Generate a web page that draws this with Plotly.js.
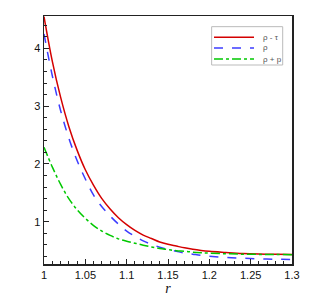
<!DOCTYPE html>
<html>
<head>
<meta charset="utf-8">
<script src="https://cdn.plot.ly/plotly-3.0.1.min.js"></script>
<style>html,body{margin:0;padding:0;background:#fff;}#chart{width:332px;height:296px;}</style>
</head>
<body>
<div id="chart"></div>
<script>
var r = [1.00,1.01,1.02,1.03,1.04,1.05,1.06,1.07,1.08,1.09,1.10,1.11,1.12,1.13,1.14,1.15,1.16,1.17,1.18,1.19,1.20,1.22,1.24,1.26,1.28,1.30];
var rhoMinusTau = [4.55,3.78,3.16,2.65,2.24,1.90,1.63,1.40,1.22,1.07,0.95,0.85,0.77,0.71,0.65,0.61,0.58,0.55,0.525,0.505,0.49,0.47,0.452,0.442,0.437,0.435];
var rho = [4.25,3.53,2.93,2.45,2.06,1.74,1.46,1.26,1.10,0.96,0.84,0.75,0.67,0.61,0.56,0.52,0.49,0.46,0.44,0.42,0.405,0.383,0.37,0.36,0.352,0.348];
var rhoPlusP = [2.29,1.95,1.65,1.40,1.21,1.06,0.935,0.84,0.765,0.705,0.665,0.63,0.595,0.565,0.54,0.52,0.50,0.49,0.475,0.465,0.457,0.448,0.44,0.436,0.434,0.432];
var names = ["ρ - τ", "ρ", "ρ + p"];
var colors = ["#d40000", "#3c3cff", "#00c800"];
var dashes = ["solid", "dash", "dashdot"];
var series = [rhoMinusTau, rho, rhoPlusP];

var traces = series.map(function (s, i) {
  return {x: r, y: s, name: names[i], mode: "lines", showlegend: false,
          line: {color: colors[i], width: 1.5, dash: dashes[i], shape: "spline"}};
});

// legend box (drawn with shapes + annotations to match compact spacing)
var legBox = {x0: 0.676, x1: 0.9625, y0: 0.8024, y1: 0.957};
var legRowY = [0.9141, 0.8710, 0.8266];
var shapes = [{type: "rect", xref: "paper", yref: "paper", x0: legBox.x0, x1: legBox.x1, y0: legBox.y0, y1: legBox.y1,
               line: {color: "#bbb", width: 1}, fillcolor: "#fff", layer: "above"}];
var annotations = [];
names.forEach(function (n, i) {
  shapes.push({type: "line", xref: "paper", yref: "paper", x0: 0.6855, x1: 0.8468, y0: legRowY[i], y1: legRowY[i],
               line: {color: colors[i], width: 1.5, dash: dashes[i]}, layer: "above"});
  annotations.push({xref: "paper", yref: "paper", x: 0.875, y: legRowY[i], xanchor: "left", yanchor: "middle",
                    text: n, showarrow: false, font: {family: "Liberation Sans, Arial, sans-serif", size: 8, color: "#555"}});
});

var axisCommon = {
  showgrid: false, zeroline: false, showline: true, mirror: true,
  linecolor: "#222", linewidth: 1.5, ticks: "inside", ticklen: 5, tickcolor: "#222",
  tickfont: {family: "Liberation Sans, Arial, sans-serif", size: 11, color: "#111"}
};

var layout = {
  width: 332, height: 296,
  margin: {l: 44, r: 40, t: 16, b: 32},
  paper_bgcolor: "#fff", plot_bgcolor: "#fff",
  showlegend: false,
  shapes: shapes,
  annotations: annotations,
  xaxis: Object.assign({}, axisCommon, {
    range: [1, 1.3], dtick: 0.05, tick0: 1,
    minor: {dtick: 0.01, ticks: "inside", ticklen: 3, tickcolor: "#222"},
    title: {text: "r", standoff: 0, font: {family: "Liberation Serif, Times New Roman, serif", size: 14, color: "#111", style: "italic"}}
  }),
  yaxis: Object.assign({}, axisCommon, {
    range: [0.27, 4.56], dtick: 1, tick0: 0,
    minor: {dtick: 0.2, ticks: "inside", ticklen: 3, tickcolor: "#222"}
  })
};

Plotly.newPlot("chart", traces, layout, {staticPlot: true, displayModeBar: false});
</script>
</body>
</html>
